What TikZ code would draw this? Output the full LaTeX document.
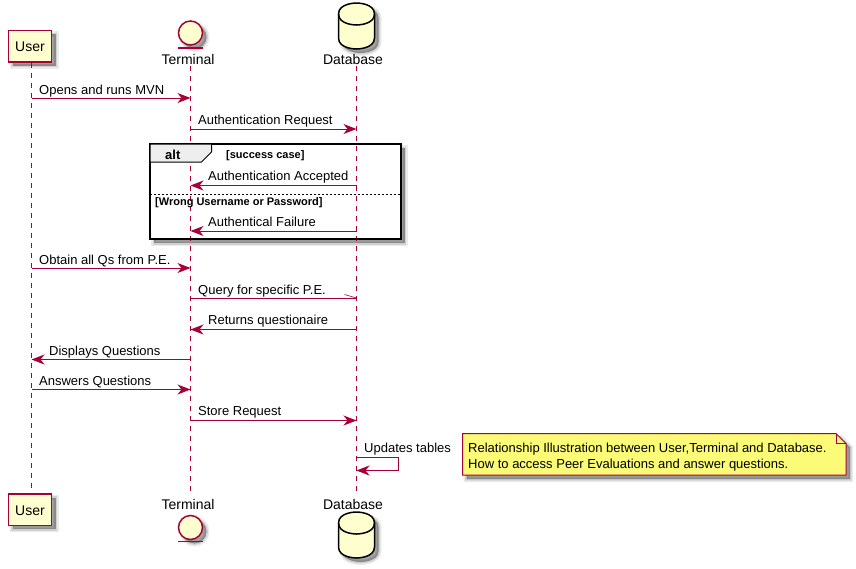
\documentclass[tikz,border=0pt]{standalone}
\usepackage{fontspec}
\setmainfont{Liberation Sans}
\usetikzlibrary{arrows.meta,positioning}
\definecolor{umlred}{HTML}{A80036}
\definecolor{umlfill}{HTML}{FEFECE}
\definecolor{umlnote}{HTML}{FBFB77}
\definecolor{umltab}{HTML}{EEEEEE}
\tikzset{
	softshadow/.style={
		preaction={draw=black,fill=black,opacity=.08,line width=6pt,transform canvas={shift={(4,4)}}},
		preaction={draw=black,fill=black,opacity=.11,line width=3pt,transform canvas={shift={(4,4)}}},
		preaction={fill=black,opacity=.2,transform canvas={shift={(4,4)}}}
	},
	lifeline/.style={umlred,line width=1pt,dash pattern=on 5pt off 5pt},
	msg/.style={umlred,line width=1pt,-{Stealth[length=13pt,width=10pt,inset=4pt]}},
	msgtext/.style={anchor=base west,inner sep=0pt,font=\fontsize{13}{16}\selectfont},
	headtext/.style={anchor=base,inner sep=0pt,font=\fontsize{14}{16}\selectfont},
	guardtext/.style={anchor=base west,inner sep=0pt,font=\fontsize{11}{13}\selectfont\bfseries},
	userbox/.style={draw=umlred,fill=umlfill,line width=1.5pt,minimum width=43pt,minimum height=31.5pt,inner sep=0pt,text height=11.4pt,text depth=0pt,softshadow,font=\fontsize{14}{16}\selectfont},
	entity/.style={circle,draw=umlred,fill=umlfill,line width=1.5pt,minimum size=24pt,inner sep=0pt,softshadow},
	dbshape/.style={draw=black,fill=umlfill,line width=1.5pt,softshadow}
}
\begin{document}
\begin{tikzpicture}[x=1pt,y=-1pt]
		\useasboundingbox (0,0) rectangle (856,568);
		
		% frame goes under the lifelines, its outline comes later
		\fill[white,softshadow] (150,144) rectangle (400.5,239);
		
		\node[userbox] (userHead) at (30,46) {User};
		\node[userbox] (userFoot) at (30,509.5) {User};
		\node[entity] (termHead) at (190.5,33) {};
		\node[entity] (termFoot) at (190.5,527.5) {};
		\draw[umlred,line width=1.5pt] (178,48) -- (203,48);
		\draw[umlred,line width=1.5pt] (178,541.5) -- (203,541.5);
		\node[headtext] (termTopText) at (188,64) {Terminal};
		\node[headtext] (termBotText) at (188,509) {Terminal};
		\node[headtext] (dbTopText) at (353,64) {Database};
		\node[headtext] (dbBotText) at (353,509) {Database};
		
		\foreach \y in {3,512}{
			\draw[dbshape] (338.5,\y+11) .. controls (338.5,\y) and (356.5,\y) .. (356.5,\y) .. controls (356.5,\y) and (374.5,\y) .. (374.5,\y+11) -- (374.5,\y+35) .. controls (374.5,\y+46) and (356.5,\y+46) .. (356.5,\y+46) .. controls (356.5,\y+46) and (338.5,\y+46) .. (338.5,\y+35) -- cycle;
			\draw[black,line width=1.5pt] (338.5,\y+11) .. controls (338.5,\y+22) and (356.5,\y+22) .. (356.5,\y+22) .. controls (356.5,\y+22) and (374.5,\y+22) .. (374.5,\y+11);
		}
		
		\coordinate (user) at (31.5,66);
		\coordinate (term) at (190.5,66);
		\coordinate (db) at (356.5,66);
		\coordinate (userEnd) at (31.5,494);
		\coordinate (termEnd) at (190.5,492);
		\coordinate (dbEnd) at (356.5,492);
		\draw[lifeline] (userHead.south -| user) -- (userEnd);
		\draw[lifeline] (term) -- (termEnd);
		\draw[lifeline] (db) -- (dbEnd);
		
		\foreach \from/\to/\y/\tx/\ty/\txt [count=\i] in {user/term/98/39/94/{Opens and runs MVN}, term/db/129/198/124/{Authentication Request}, db/term/185.5/208/180.5/{Authentication Accepted}, db/term/231/208/226/{Authentical Failure}, user/term/268/39/264/{Obtain all Qs from P.E.}, db/term/329.5/208/324.5/{Returns questionaire}, term/user/359.5/49/355.5/{Displays Questions}, user/term/389.5/39/385.5/{Answers Questions}, term/db/420.5/198/415.5/{Store Request}}{
			\draw[msg] (\from |- 0,\y) -- (\to |- 0,\y);
			\node[msgtext] (msg\i) at (\tx,\ty) {\txt};
		}
		
		% lost message with its one barb
		\draw[umlred,line width=1pt] (term |- 0,298) -- (db |- 0,298);
		\draw[umlred,line width=.6pt] (db |- 0,298) -- ++(-12,-3.5);
		\node[msgtext] (queryText) at (198,294) {Query for specific P.E.};
		
		\draw[msg] (db |- 0,457.5) -- (398,457.5) -- (398,470.5) -- (db |- 0,470.5);
		\node[msgtext] (selfText) at (364,452) {Updates tables};
		
		\draw[black,line width=2pt] (150,144) rectangle (400.5,239);
		\draw[black,line width=1pt,fill=umltab] (150,144) -- (211.5,144) -- (211.5,152) -- (201.5,162) -- (150,162) -- cycle;
		\draw[black,line width=1pt,dash pattern=on 2pt off 2pt] (150,194) -- (400.5,194);
		\node[msgtext,font=\fontsize{13}{16}\selectfont\bfseries] (altText) at (165,159) {alt};
		\node[guardtext] (caseText) at (226,158) {[success case]};
		\node[guardtext] (wrongText) at (155,205) {[Wrong Username or Password]};
		
		\draw[umlred,line width=1pt,fill=umlnote,softshadow] (462.5,433.5) -- (836,433.5) -- (846,443.5) -- (846,475) -- (462.5,475) -- cycle;
		\draw[umlred,line width=1pt] (836,433.5) -- (836,443.5) -- (846,443.5);
		\node[msgtext,align=left] (noteLineA) at (468,452) {Relationship Illustration between User,Terminal and Database.};
		\node[msgtext,align=left] (noteLineB) at (468,468) {How to access Peer Evaluations and answer questions.};
\end{tikzpicture}
\end{document}
